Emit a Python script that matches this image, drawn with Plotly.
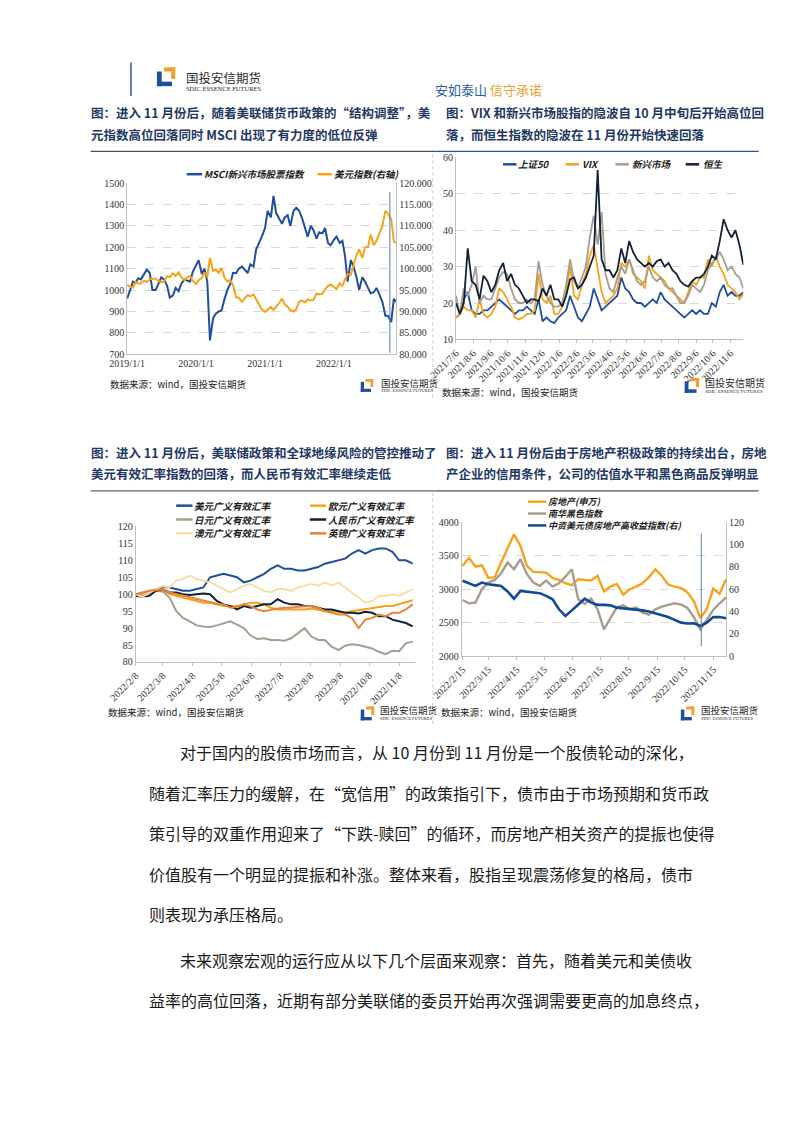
import plotly.graph_objects as go
import pandas as pd

W, H = 802, 1133
def fx(x): return x / W
def fy(y): return 1 - y / H

BLUE = "#1F4E9E"
ORANGE = "#F5A31A"
GRAY = "#A89C8F"
NAVY = "#0F2237"
LIGHTY = "#F8DFA8"
BROWN = "#E8843A"
DBLUE = "#0F4A96"
TITLE_C = "#1F3864"
SERIF = "Liberation Serif"
CJK = "Noto Sans CJK SC"

# ---------------- Chart 1 data ----------------
c1_dates = list(pd.date_range("2019-01-01", "2022-11-15", freq="SMS").strftime("%Y-%m-%d")) + ["2022-11-25"]
msci = [960, 1000, 1040, 1035, 1055, 1050, 1075, 1095, 1080, 1000, 1000, 1030, 1060, 1050, 1020, 965, 975, 1010, 995, 1030, 1050, 1045, 1040, 1085,
        1115, 1140, 1075, 1100, 1040, 765, 870, 890, 900, 905, 960, 1000, 1030, 1080, 1080, 1100, 1110, 1095, 1080, 1120, 1110, 1190, 1220, 1250,
        1290, 1370, 1340, 1440, 1360, 1340, 1310, 1340, 1350, 1300, 1370, 1385, 1370, 1340, 1290, 1250, 1300, 1280, 1240, 1270, 1265, 1290, 1220, 1210,
        1235, 1250, 1220, 1230, 1160, 1040, 1140, 1110, 1060, 1000, 1060, 1040, 1010, 985, 990, 1010, 975, 945, 880, 880, 850, 960, 945]
dxy = [96.2, 95.8, 95.6, 96.9, 96.5, 96.6, 97.2, 96.9, 97.5, 97.6, 97.7, 97.2, 96.8, 97.0, 98.3, 98.0, 98.9, 98.3, 99.1, 98.0, 97.3, 98.0, 98.3, 97.2,
       96.4, 97.3, 97.8, 99.1, 98.1, 102.5, 99.5, 99.8, 99.0, 100.2, 97.8, 97.0, 97.3, 96.2, 93.3, 93.2, 92.3, 93.0, 93.8, 93.6, 94.0, 92.8, 91.5, 90.5,
       89.9, 90.5, 91.0, 90.4, 91.0, 91.8, 93.0, 91.7, 91.1, 90.3, 90.0, 90.5, 92.3, 92.6, 92.1, 92.8, 92.6, 92.7, 94.2, 94.0, 94.1, 95.2, 96.0, 96.3,
       95.7, 95.2, 96.6, 96.0, 97.5, 98.8, 98.6, 100.6, 103.2, 104.5, 102.5, 105.0, 105.1, 108.0, 105.5, 106.5, 108.7, 110.0, 113.5, 112.9, 111.5, 106.4, 106.0]
c1_tickvals = ["2019-01-01", "2020-01-01", "2021-01-01", "2022-01-01"]
c1_ticktext = ["2019/1/1", "2020/1/1", "2021/1/1", "2022/1/1"]

# ---------------- Chart 2 data ----------------
c2_dates = list(pd.date_range("2021-07-06", periods=74, freq="7D").strftime("%Y-%m-%d"))
sz50 = [16, 17, 21, 23, 18, 17, 17, 18, 18, 19, 20, 21, 20, 19, 18, 17, 18, 18, 19, 18, 17, 21, 15, 16, 15, 14.5, 16, 17, 18, 22,
        19, 16, 15, 17, 19, 24, 21, 18, 19, 20, 21, 22, 27, 24, 23, 21, 20, 20, 19, 20, 21, 20, 23, 21, 20, 19, 18, 17, 16, 17,
        18, 17, 18, 17, 17, 20, 19, 23, 25, 22, 23, 22, 22, 23]
vix = [16, 17, 19, 18, 18, 16, 21, 17, 16, 17, 19, 24, 23, 21, 19, 16, 15.5, 16, 17, 17, 18, 28, 21, 20, 22, 17, 17, 19, 23, 30,
       22, 21, 25, 28, 33, 36, 30, 23, 20, 21, 22, 24, 31, 30, 32, 28, 27, 26, 24, 33, 29, 28, 27, 26, 24, 23, 22, 21, 20, 23,
       26, 25, 27, 27, 32, 30, 33, 30, 28, 25, 24, 23, 21, 22.5]
em = [22, 17, 24, 22, 25, 30, 20, 22, 21, 21, 24, 27, 28.5, 28, 24, 21, 20, 20, 21, 20, 21, 31.5, 25, 22, 20, 19, 19, 20, 25, 32,
      26, 24, 27, 30, 38, 44, 36, 45, 28, 24, 23, 27, 30, 28, 32, 29, 26, 25, 26, 30, 27, 26, 27, 25, 24, 24, 22, 20, 20, 22,
      25, 24, 23, 25, 29, 31, 32, 34, 32, 29, 30, 28, 27, 24]
hsi = [20, 17, 20, 35, 26, 25, 21, 27.5, 26, 23, 25, 29, 31, 26, 28, 25, 24, 22, 20, 21, 21, 20.5, 24, 22, 25, 21, 21, 19, 22, 26.5,
       27, 24, 25, 27, 30, 33, 56.5, 32, 29, 29, 27, 29, 35, 31, 37, 34, 32, 31, 30, 31, 30, 31.5, 32, 30, 31, 29, 28, 26, 25, 24.5,
       26, 27, 27, 28, 30, 33, 32, 37, 43, 40, 38, 40, 36, 30.5]
c2_tickvals = ["2021-07-06", "2021-08-06", "2021-09-06", "2021-10-06", "2021-11-06", "2021-12-06", "2022-01-06", "2022-02-06", "2022-03-06",
               "2022-04-06", "2022-05-06", "2022-06-06", "2022-07-06", "2022-08-06", "2022-09-06", "2022-10-06", "2022-11-06"]
c2_ticktext = ["2021/7/6", "2021/8/6", "2021/9/6", "2021/10/6", "2021/11/6", "2021/12/6", "2022/1/6", "2022/2/6", "2022/3/6",
               "2022/4/6", "2022/5/6", "2022/6/6", "2022/7/6", "2022/8/6", "2022/9/6", "2022/10/6", "2022/11/6"]

# ---------------- Chart 3 data ----------------
c3_dates = list(pd.date_range("2022-02-08", periods=42, freq="7D").strftime("%Y-%m-%d"))
usd_reer = [100, 100.3, 100.8, 101.5, 102.3, 102, 101.5, 101, 101, 101.5, 102, 105, 105.5, 106, 105.5, 105, 103.5, 104, 105, 106, 107.5,
            108.5, 107.5, 107.5, 107, 107, 107.5, 108, 109, 109.5, 110, 110.5, 112, 113, 112, 113, 113.5, 113.5, 112.5, 110, 110, 109]
eur_reer = [100, 100.3, 100.5, 101.5, 101.5, 100, 99.5, 99, 98.5, 98, 97.5, 97.5, 97, 96.5, 96.5, 96.5, 97, 97.5, 97.5, 97, 96,
            95.5, 95.5, 95.5, 95.5, 95.5, 95.8, 95.5, 95, 95, 94.8, 94.5, 95, 95.3, 95.5, 95.8, 96, 96.5, 96.5, 97, 97.5, 98.2]
jpy_reer = [100, 99.5, 100.3, 101, 100.8, 99, 95, 93, 92, 90.8, 90.5, 90.3, 90.8, 91.5, 92, 91, 90, 87.8, 86.8, 87, 86.5,
            86.5, 86.3, 87, 88.5, 90, 87.5, 86.5, 86.5, 84.5, 83.5, 84.8, 85.2, 85, 84.5, 84, 83, 82.3, 83.3, 83.2, 85.5, 86]
cny_reer = [99.5, 99.3, 99.5, 101, 101.5, 100.5, 100.5, 100, 99.8, 100, 100.2, 100, 98, 97, 96.5, 95.5, 96.5, 96, 96.5, 97, 97,
            98.5, 97.5, 97, 97, 96.5, 96.5, 96, 95.5, 95.5, 95, 94.5, 94.5, 94.3, 94.8, 94.5, 93.5, 93.5, 92.5, 92, 91.5, 90.5]
aud_reer = [100, 99.2, 100.5, 101.5, 102.5, 102, 104, 104.5, 105.5, 104.5, 104, 103.5, 102.5, 101.5, 100.5, 101.5, 102.5, 103, 102, 101, 100.5,
            101.5, 101.5, 101, 102, 102.5, 103, 102.5, 103.5, 102.5, 103.5, 102, 100.5, 99, 97.5, 98, 99.5, 99.5, 100, 99.5, 100.5, 101.5]
gbp_reer = [100, 100.5, 101, 101.2, 101.5, 100.5, 100, 99.5, 99, 98.5, 98, 97.5, 97.2, 97, 96, 96.3, 97, 96.5, 95.5, 95, 95.5,
            95.8, 96, 96, 96.3, 96.5, 96.5, 96, 95, 94.5, 94, 94, 93, 90, 92.5, 93, 94, 93.5, 94.5, 94.5, 95.5, 97]
c3_tickvals = ["2022-02-08", "2022-03-08", "2022-04-08", "2022-05-08", "2022-06-08", "2022-07-08", "2022-08-08", "2022-09-08", "2022-10-08", "2022-11-08"]
c3_ticktext = ["2022/2/8", "2022/3/8", "2022/4/8", "2022/5/8", "2022/6/8", "2022/7/8", "2022/8/8", "2022/9/8", "2022/10/8", "2022/11/8"]

# ---------------- Chart 4 data ----------------
c4_dates = list(pd.date_range("2022-02-15", periods=42, freq="7D").strftime("%Y-%m-%d"))
realestate = [3350, 3470, 3340, 3360, 3170, 3180, 3400, 3600, 3820, 3650, 3350, 3260, 3250, 3250, 3170, 3140, 3090, 3060, 3150, 3140, 3130,
              3200, 2970, 3040, 3080, 2920, 3000, 3040, 3090, 3180, 3300, 3200, 3070, 3040, 3020, 2950, 2820, 2570, 2700, 3010, 2930, 3150]
nanhua_black = [2840, 2790, 2800, 3000, 3100, 3140, 3240, 3400, 3300, 3450, 3230, 3100, 3050, 3130, 3040, 3090, 3190, 3300, 2850, 2780, 2860,
                2700, 2400, 2560, 2730, 2760, 2700, 2730, 2650, 2620, 2700, 2740, 2770, 2790, 2770, 2720, 2580, 2400, 2540, 2690, 2790, 2880]
cn_hy_re = [67.6, 65, 63, 66, 64.5, 63.7, 63, 58, 51.5, 58.5, 58, 57, 56.5, 54, 51, 42, 36, 41, 46, 51.5, 48,
            46, 46, 45.5, 43.5, 43, 42.5, 42, 41, 40, 38.5, 37, 35, 32.5, 30, 29.3, 29.5, 27, 30, 35, 35, 34]
c4_tickvals = ["2022-02-15", "2022-03-15", "2022-04-15", "2022-05-15", "2022-06-15", "2022-07-15", "2022-08-15", "2022-09-15", "2022-10-15", "2022-11-15"]
c4_ticktext = ["2022/2/15", "2022/3/15", "2022/4/15", "2022/5/15", "2022/6/15", "2022/7/15", "2022/8/15", "2022/9/15", "2022/10/15", "2022/11/15"]

fig = go.Figure()

def line(x, y, xa, ya, color, width):
    fig.add_trace(go.Scatter(x=x, y=y, xaxis=xa, yaxis=ya, mode="lines",
                             line=dict(color=color, width=width), showlegend=False, hoverinfo="skip"))

line(c1_dates, msci, "x", "y", BLUE, 2)
line(c1_dates, dxy, "x", "y2", ORANGE, 2)

line(c2_dates, sz50, "x2", "y3", BLUE, 1.8)
line(c2_dates, vix, "x2", "y3", ORANGE, 1.8)
line(c2_dates, em, "x2", "y3", GRAY, 1.8)
line(c2_dates, hsi, "x2", "y3", NAVY, 1.8)

line(c3_dates, usd_reer, "x3", "y4", BLUE, 2)
line(c3_dates, eur_reer, "x3", "y4", ORANGE, 2)
line(c3_dates, jpy_reer, "x3", "y4", GRAY, 2)
line(c3_dates, cny_reer, "x3", "y4", NAVY, 2)
line(c3_dates, aud_reer, "x3", "y4", LIGHTY, 2)
line(c3_dates, gbp_reer, "x3", "y4", BROWN, 2)

line(c4_dates, realestate, "x4", "y5", ORANGE, 2.4)
line(c4_dates, nanhua_black, "x4", "y5", GRAY, 2.4)
line(c4_dates, cn_hy_re, "x4", "y6", DBLUE, 2.6)

tickf = dict(family=SERIF, size=10, color="#333")
AX = "#BFBFBF"
GRID = "#D9D9D9"

def xax(dom, anchor, rng, tv, tt, angle, ticks="outside"):
    return dict(domain=[fx(dom[0]), fx(dom[1])], anchor=anchor, type="date", range=rng,
                tickmode="array", tickvals=tv, ticktext=tt, tickangle=angle,
                showline=True, linecolor=AX, linewidth=1, ticks=ticks, ticklen=3, tickcolor=AX,
                showgrid=False, zeroline=False, tickfont=tickf, fixedrange=True)

def yax(dom, anchor, rng, dt, grid, fmt=None):
    d = dict(domain=[fy(dom[1]), fy(dom[0])], anchor=anchor, range=rng, dtick=dt, tick0=rng[0],
             showline=True, linecolor=AX, linewidth=1, ticks="", showgrid=grid, gridcolor=GRID,
             griddash="dash", gridwidth=1, zeroline=False, tickfont=tickf, fixedrange=True)
    if fmt:
        d["tickformat"] = fmt
    return d

fig.update_layout(
    width=W, height=H, margin=dict(l=0, r=0, t=0, b=0),
    paper_bgcolor="white", plot_bgcolor="white", showlegend=False,
    xaxis=xax((100, 380), "y", ["2019-01-01", "2022-11-28"], c1_tickvals, c1_ticktext, 0, ""),
    yaxis=yax((179, 352), "x", [700, 1500], 100, True),
    yaxis2=dict(yax((179, 352), "x", [80, 120], 5, False, ".3f"), overlaying="y", side="right"),
    xaxis2=xax((442, 741), "y3", ["2021-07-06", "2022-11-29"], c2_tickvals, c2_ticktext, -45),
    yaxis3=yax((153, 337), "x2", [10, 60], 10, True),
    xaxis3=xax((109, 399), "y4", ["2022-02-08", "2022-11-24"], c3_tickvals, c3_ticktext, -45),
    yaxis4=yax((526, 663), "x3", [80, 120], 5, False),
    xaxis4=xax((448, 723), "y5", ["2022-02-14", "2022-11-29"], c4_tickvals, c4_ticktext, -45),
    yaxis5=yax((522, 657), "x4", [2000, 4000], 500, True),
    yaxis6=dict(yax((522, 657), "x4", [0, 120], 20, False), overlaying="y5", side="right"),
)

shapes = []
ann = []

def rect(x0, y0, x1, y1, color):
    shapes.append(dict(type="rect", xref="paper", yref="paper", x0=fx(x0), x1=fx(x1), y0=fy(y1), y1=fy(y0),
                       fillcolor=color, line=dict(width=0), layer="above"))

def hline(x0, x1, y, color, width=1, dash="solid"):
    shapes.append(dict(type="line", xref="paper", yref="paper", x0=fx(x0), x1=fx(x1), y0=fy(y), y1=fy(y),
                       line=dict(color=color, width=width, dash=dash)))

def vline(x, y0, y1, color, width=1, dash="solid"):
    shapes.append(dict(type="line", xref="paper", yref="paper", x0=fx(x), x1=fx(x), y0=fy(y0), y1=fy(y1),
                       line=dict(color=color, width=width, dash=dash)))

def text(x, y, s, size, color="#222", family=CJK, xanchor="left"):
    ann.append(dict(xref="paper", yref="paper", x=fx(x), y=fy(y), text=s, showarrow=False,
                    xanchor=xanchor, yanchor="middle", font=dict(family=family, size=size, color=color),
                    borderpad=0, borderwidth=0))

def logo(x0, y0, s, tx, ty, fcn, fen, gap):
    rect(x0 + 0.38 * s, y0, x0 + s, y0 + 0.22 * s, "#F2A22C")
    rect(x0 + 0.78 * s, y0, x0 + s, y0 + 0.62 * s, "#F2A22C")
    rect(x0, y0 + 0.22 * s, x0 + 0.26 * s, y0 + s, "#1F4E9E")
    rect(x0, y0 + 0.76 * s, x0 + 0.82 * s, y0 + s, "#1F4E9E")
    text(tx, ty, "国投安信期货", fcn, "#2B2B2B")
    text(tx, ty + gap, "SDIC ESSENCE FUTURES", fen, "#2B2B2B", SERIF)

def legend_item(lx0, lx1, y, color, label, tx, size=9.5, width=2.5):
    hline(lx0, lx1, y, color, width)
    text(tx, y, "<b><i>" + label + "</i></b>", size, "#1a1a1a")

# header
vline(104, 57, 91, "#2F5597", 1.5)
logo(131, 62, 19, 161, 72, 12.5, 6.5, 11)
text(420, 84, "<span style='color:#2E5DA8'>安如泰山</span> <span style='color:#F0A030'>信守承诺</span>", 13)

# titles
TS = 12.5
text(62, 108, "<b>图：进入 11 月份后，随着美联储货币政策的“结构调整”，美</b>", TS, TITLE_C)
text(62, 130, "<b>元指数高位回落同时 MSCI 出现了有力度的低位反弹</b>", TS, TITLE_C)
text(432, 108, "<b>图：VIX 和新兴市场股指的隐波自 10 月中旬后开始高位回</b>", TS, TITLE_C)
text(432, 130, "<b>落，而恒生指数的隐波在 11 月份开始快速回落</b>", TS, TITLE_C)
hline(62, 421, 147, "#4D4D4D", 1.2)
hline(421, 757, 147, "#2F5597", 1.2)

text(62, 451, "<b>图：进入 11 月份后，美联储政策和全球地缘风险的管控推动了</b>", TS, TITLE_C)
text(62, 473, "<b>美元有效汇率指数的回落，而人民币有效汇率继续走低</b>", TS, TITLE_C)
text(432, 451, "<b>图：进入 11 月份后由于房地产积极政策的持续出台，房地</b>", TS, TITLE_C)
text(432, 473, "<b>产企业的信用条件，公司的估值水平和黑色商品反弹明显</b>", TS, TITLE_C)
hline(62, 421, 490, "#666666", 1.2)
hline(421, 757, 490, "#44546A", 1.2)

# cell dividers (dotted)
vline(418, 150, 398, "#C8C8C8", 1, "dot")
vline(418, 492, 727, "#C8C8C8", 1, "dot")

# legends
legend_item(162, 178, 170, BLUE, "MSCI新兴市场股票指数", 180)
legend_item(298, 313, 170, ORANGE, "美元指数(右轴)", 315)
legend_item(491, 505, 160, BLUE, "上证50", 507)
legend_item(556, 570, 160, ORANGE, "VIX", 573)
legend_item(608, 622, 160, GRAY, "新兴市场", 625)
legend_item(681, 695, 160, NAVY, "恒生", 699)
legend_item(151, 168, 505, BLUE, "美元广义有效汇率", 170)
legend_item(290, 307, 505, ORANGE, "欧元广义有效汇率", 309)
legend_item(151, 168, 519, GRAY, "日元广义有效汇率", 170)
legend_item(290, 307, 519, NAVY, "人民币广义有效汇率", 309)
legend_item(151, 168, 533, LIGHTY, "澳元广义有效汇率", 170)
legend_item(290, 307, 533, BROWN, "英镑广义有效汇率", 309)
legend_item(517, 536, 501, ORANGE, "房地产(申万)", 538, 9)
legend_item(517, 536, 513, GRAY, "南华黑色指数", 538, 9)
legend_item(517, 536, 525, DBLUE, "中资美元债房地产高收益指数(右)", 538, 9)

# cursor lines
shapes.append(dict(type="line", xref="x", yref="y", x0="2022-10-25", x1="2022-10-25", y0=707, y1=1458,
                   line=dict(color="#5B7DB1", width=1)))
shapes.append(dict(type="line", xref="x4", yref="y6", x0="2022-11-02", x1="2022-11-02", y0=9, y1=110,
                   line=dict(color="#5B7DB1", width=1)))

# sources + logos
SRC = "数据来源：wind，国投安信期货"
text(82, 382, SRC, 9.5, "#222")
text(428, 390, SRC, 9.5, "#222")
text(80, 714, SRC, 9.5, "#222")
text(427, 714, SRC, 9.5, "#222")
logo(343, 377, 13, 364, 381, 9.5, 4.5, 8)
logo(680, 376, 15, 701, 381, 10, 5, 9)
logo(343, 708, 14, 363, 712, 9.5, 4.5, 8)
logo(676, 708, 14, 697, 712, 9.5, 4.5, 8)

# body text
body = [
    (155, 754, "对于国内的股债市场而言，从 10 月份到 11 月份是一个股债轮动的深化，"),
    (123, 795, "随着汇率压力的缓解，在“宽信用”的政策指引下，债市由于市场预期和货币政"),
    (123, 836, "策引导的双重作用迎来了“下跌-赎回”的循环，而房地产相关资产的提振也使得"),
    (123, 877, "价值股有一个明显的提振和补涨。整体来看，股指呈现震荡修复的格局，债市"),
    (123, 918, "则表现为承压格局。"),
    (155, 964, "未来观察宏观的运行应从以下几个层面来观察：首先，随着美元和美债收"),
    (123, 1005, "益率的高位回落，近期有部分美联储的委员开始再次强调需要更高的加息终点，"),
]
for x, y, s in body:
    text(x, y, s, 16, "#1a1a1a")

fig.update_layout(shapes=shapes, annotations=ann)
fig.write_html("out.html", config={"displayModeBar": False},
               post_script="document.body.style.margin='0px';document.body.style.overflow='hidden';")
